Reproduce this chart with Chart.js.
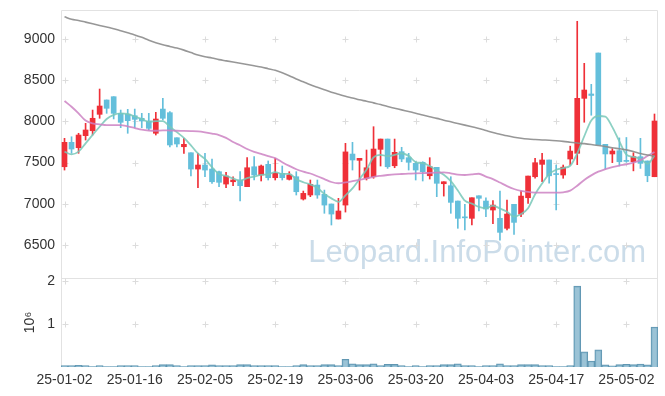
<!DOCTYPE html>
<html>
<head>
<meta charset="utf-8">
<script src="https://cdn.jsdelivr.net/npm/chart.js@4.4.1/dist/chart.umd.min.js"></script>
<style>
  html, body { margin: 0; padding: 0; background: #fff; }
  #wrap { width: 665px; height: 396px; }
</style>
</head>
<body>
<div id="wrap"><canvas id="chart"></canvas></div>
<script>
// trading days
const labels = [
  '25-01-02','25-01-03','25-01-06','25-01-07','25-01-08','25-01-09','25-01-10','25-01-13','25-01-14','25-01-15',
  '25-01-16','25-01-17','25-01-20','25-01-21','25-01-22','25-01-23','25-01-24','25-01-31','25-02-03','25-02-04',
  '25-02-05','25-02-06','25-02-07','25-02-10','25-02-11','25-02-12','25-02-13','25-02-14','25-02-17','25-02-18',
  '25-02-19','25-02-20','25-02-21','25-02-24','25-02-25','25-02-26','25-02-27','25-02-28','25-03-04','25-03-05',
  '25-03-06','25-03-07','25-03-10','25-03-11','25-03-12','25-03-13','25-03-14','25-03-17','25-03-18','25-03-19',
  '25-03-20','25-03-21','25-03-24','25-03-25','25-03-26','25-03-27','25-03-28','25-03-31','25-04-01','25-04-02',
  '25-04-03','25-04-04','25-04-07','25-04-08','25-04-09','25-04-10','25-04-11','25-04-14','25-04-15','25-04-16',
  '25-04-17','25-04-18','25-04-21','25-04-22','25-04-23','25-04-24','25-04-25','25-04-28','25-04-29','25-04-30',
  '25-05-02','25-05-07','25-05-08','25-05-09','25-05-12'
];

const opens = [
  7450,7746,7681,7827,7887,8086,8260,8300,8098,8086,
  8069,8038,8005,7856,8150,8106,7802,7693,7620,7422,
  7471,7422,7390,7240,7268,7289,7208,7450,7350,7479,
  7317,7370,7297,7329,7058,7107,7228,7115,6998,6816,
  6985,7604,7528,7310,7329,7661,7786,7462,7633,7560,
  7491,7504,7341,7443,7244,7220,7034,6840,6824,7098,
  7034,6925,6824,6703,6994,6876,7074,7329,7479,7532,
  7365,7350,7544,7613,8280,8333,8830,7722,7605,7645,
  7525,7511,7572,7520,7329
];
const highs = [
  7795,7814,7856,7977,8138,8393,8260,8300,8138,8147,
  8150,8098,8098,8110,8280,8120,7802,7795,7620,7613,
  7613,7544,7398,7382,7329,7390,7560,7572,7471,7520,
  7552,7459,7390,7390,7155,7289,7289,7167,6998,7067,
  7734,7746,7552,7653,7936,7786,7786,7786,7686,7613,
  7511,7511,7560,7443,7268,7329,7034,6994,7074,7098,
  7074,7040,7155,7046,6994,7155,7337,7552,7613,7532,
  7470,7471,7700,9215,8705,8450,8830,7722,7670,7800,
  7805,7620,7795,7520,8090
];
const lows = [
  7410,7613,7613,7774,7835,8038,8098,8030,7924,7856,
  7924,7924,7896,7835,8017,7690,7690,7613,7340,7195,
  7329,7249,7208,7195,7220,7034,7208,7289,7277,7289,
  7289,7289,7289,7107,7046,7087,7067,6885,6743,6816,
  6900,7410,7167,7289,7310,7459,7430,7438,7511,7410,
  7289,7277,7301,7087,7094,6885,6703,6682,6743,6913,
  6843,6760,6560,6682,6630,6843,7006,7310,7268,7250,
  6925,7310,7470,7475,7990,8075,7714,7420,7500,7460,
  7505,7400,7430,7268,7329
];
const closes = [
  7746,7665,7835,7896,8038,8187,8159,8098,7989,8009,
  8025,8005,7916,8029,8038,7714,7726,7722,7422,7471,
  7410,7268,7261,7337,7289,7220,7438,7350,7459,7317,
  7370,7317,7350,7147,7127,7237,7107,6985,6876,6913,
  7630,7532,7552,7438,7665,7786,7450,7625,7544,7504,
  7410,7390,7450,7249,7268,7018,6824,6830,7074,7067,
  6937,6985,6654,6876,6775,7094,7337,7499,7532,7340,
  7355,7445,7640,8280,8381,8315,7714,7605,7641,7511,
  7515,7572,7491,7341,8005
];
const volumes = [
  35000,35000,40000,35000,10000,35000,10000,10000,35000,35000,
  35000,12000,12000,35000,55000,55000,35000,12000,35000,35000,
  35000,50000,35000,35000,35000,55000,55000,35000,35000,35000,
  35000,12000,12000,35000,55000,35000,35000,55000,55000,35000,
  180000,75000,55000,55000,75000,35000,60000,60000,35000,12000,
  35000,12000,35000,35000,55000,55000,75000,35000,35000,12000,
  35000,35000,75000,35000,35000,55000,55000,55000,35000,35000,
  12000,12000,35000,1880000,350000,140000,400000,50000,30000,55000,
  65000,55000,70000,50000,930000
];

// moving averages
const ma5 = [
  7633,7600,7633,7734,7836,7935,8030,8080,8098,8090,
  8060,8030,7995,8003,8003,7935,7870,7800,7710,7611,
  7545,7445,7362,7340,7308,7280,7312,7330,7351,7357,
  7385,7363,7363,7300,7262,7236,7194,7121,7066,7024,
  7102,7187,7301,7413,7563,7595,7578,7593,7614,7582,
  7507,7495,7460,7401,7353,7275,7162,7038,7003,6963,
  6946,6979,6943,6904,6845,6877,6947,7116,7247,7360,
  7413,7434,7462,7612,7820,8012,8066,8059,7931,7757,
  7597,7569,7546,7486,7585
];
const ma20 = [
  8248,8178,8098,8010,7977,7965,7956,7956,7956,7940,
  7920,7900,7890,7887,7892,7890,7887,7885,7882,7878,
  7867,7852,7835,7800,7750,7710,7665,7630,7605,7578,
  7555,7505,7460,7420,7390,7368,7335,7300,7265,7250,
  7260,7275,7292,7310,7328,7340,7350,7358,7362,7366,
  7370,7373,7375,7378,7382,7370,7355,7350,7358,7365,
  7330,7300,7258,7215,7180,7158,7145,7137,7135,7135,
  7135,7140,7160,7220,7290,7345,7390,7420,7445,7465,
  7480,7500,7530,7580,7630
];
const ma60 = [
  9270,9240,9225,9205,9185,9165,9145,9125,9100,9075,
  9050,9020,8985,8955,8930,8910,8890,8865,8835,8805,
  8785,8770,8750,8735,8720,8705,8690,8675,8660,8640,
  8620,8590,8555,8515,8480,8445,8415,8385,8355,8330,
  8305,8285,8262,8245,8225,8205,8180,8160,8140,8120,
  8100,8078,8057,8037,8015,7995,7975,7955,7935,7915,
  7890,7865,7845,7825,7808,7795,7786,7780,7775,7772,
  7766,7758,7748,7738,7730,7720,7708,7695,7680,7668,
  7655,7635,7610,7592,7578
];

const priceTicks = [6500, 7000, 7500, 8000, 8500, 9000];
const volTicks = [1000000, 2000000];
const watermark = 'Leopard.InfoPointer.com';

const UP = '#ef3038';
const DOWN = '#64bfdb';
const candleColors = closes.map((c, i) => c >= opens[i] ? UP : DOWN);

const tickFont = { family: 'Liberation Sans', size: 14 };

// crosses at grid intersections, panel borders and the watermark
const decor = {
  id: 'decor',
  beforeDatasetsDraw(chart) {
    const { ctx, chartArea: a, scales } = chart;
    const x = scales.x, y = scales.y, v = scales.vol;
    ctx.save();
    ctx.font = '31px "Liberation Sans"';
    ctx.fillStyle = 'rgba(168,196,218,0.6)';
    ctx.textAlign = 'right';
    ctx.textBaseline = 'alphabetic';
    ctx.fillText(watermark, a.right - 12, y.bottom - 16);

    ctx.strokeStyle = '#e2e2e2';
    ctx.lineWidth = 1;
    ctx.beginPath();
    ctx.moveTo(a.left + 0.5, a.bottom);
    ctx.lineTo(a.left + 0.5, y.top + 0.5);
    ctx.lineTo(a.right - 0.5, y.top + 0.5);
    ctx.lineTo(a.right - 0.5, a.bottom);
    ctx.moveTo(a.left, Math.round(y.bottom) + 0.5);
    ctx.lineTo(a.right, Math.round(y.bottom) + 0.5);
    ctx.stroke();

    ctx.strokeStyle = '#dcdcdc';
    ctx.beginPath();
    for (let i = 0; i < labels.length; i += 10) {
      const px = Math.round(x.getPixelForValue(i)) + 0.5;
      const ys = priceTicks.map(t => y.getPixelForValue(t))
        .concat(volTicks.map(t => v.getPixelForValue(t)));
      ys.forEach(py => {
        py = Math.round(py) + 0.5;
        ctx.moveTo(px - 3, py); ctx.lineTo(px + 3, py);
        ctx.moveTo(px, py - 3); ctx.lineTo(px, py + 3);
      });
    }
    ctx.stroke();
    ctx.restore();
  }
};

const lineDs = (data, color, width) => ({
  type: 'line',
  data: data,
  yAxisID: 'y',
  borderColor: color,
  borderWidth: width,
  pointRadius: 0,
  fill: false,
  cubicInterpolationMode: 'monotone',
  order: 0
});

// fixed axis box sizes, no extra padding for labels
const fitLeft = s => { s.width = 61; s.paddingTop = 0; s.paddingBottom = 0; };

new Chart(document.getElementById('chart'), {
  type: 'bar',
  data: {
    labels: labels,
    datasets: [
      lineDs(ma60, 'rgba(140,140,140,0.9)', 1.6),
      lineDs(ma20, 'rgba(205,130,195,0.85)', 1.8),
      lineDs(ma5, 'rgba(120,200,185,0.85)', 1.8),
      {
        data: opens.map((o, i) => [o, closes[i]]),
        yAxisID: 'y',
        backgroundColor: candleColors,
        barThickness: 5,
        minBarLength: 1,
        grouped: false,
        order: 1
      },
      {
        data: lows.map((l, i) => [l, highs[i]]),
        yAxisID: 'y',
        backgroundColor: candleColors,
        barThickness: 1,
        grouped: false,
        order: 2
      },
      {
        data: volumes,
        yAxisID: 'vol',
        backgroundColor: 'rgba(130,180,204,0.8)',
        borderColor: 'rgba(80,140,170,0.9)',
        borderWidth: 1,
        barPercentage: 1,
        categoryPercentage: 1,
        grouped: false,
        order: 3
      }
    ]
  },
  options: {
    responsive: true,
    maintainAspectRatio: false,
    animation: false,
    layout: { padding: { top: 10, right: 7, left: 0, bottom: 0 } },
    plugins: {
      legend: { display: false },
      tooltip: { enabled: false }
    },
    scales: {
      x: {
        offset: true,
        grid: { display: false, drawTicks: false },
        border: { display: false },
        ticks: {
          autoSkip: false,
          maxRotation: 0,
          padding: 5,
          color: '#333',
          font: tickFont,
          callback: (v, i) => i % 10 === 0 ? labels[i] : ''
        },
        afterFit: s => { s.height = 29; }
      },
      vol: {
        position: 'left',
        stack: 'panels',
        stackWeight: 89,
        min: 0,
        max: 2070000,
        grid: { display: false, drawTicks: false },
        border: { display: false },
        afterBuildTicks: s => { s.ticks = volTicks.map(t => ({ value: t })); },
        ticks: { padding: 6, color: '#333', font: tickFont, callback: v => String(v / 1000000) },
        title: {
          display: true,
          text: '10⁶',
          color: '#333',
          font: tickFont,
          padding: { top: 22, bottom: 0 }
        },
        afterFit: fitLeft
      },
      y: {
        position: 'left',
        stack: 'panels',
        stackWeight: 268,
        min: 6100,
        max: 9352,
        grid: { display: false, drawTicks: false },
        border: { display: false },
        afterBuildTicks: s => { s.ticks = priceTicks.map(t => ({ value: t })); },
        ticks: { padding: 6, color: '#333', font: tickFont, callback: v => String(v) },
        afterFit: fitLeft
      }
    }
  },
  plugins: [decor]
});
</script>
</body>
</html>
